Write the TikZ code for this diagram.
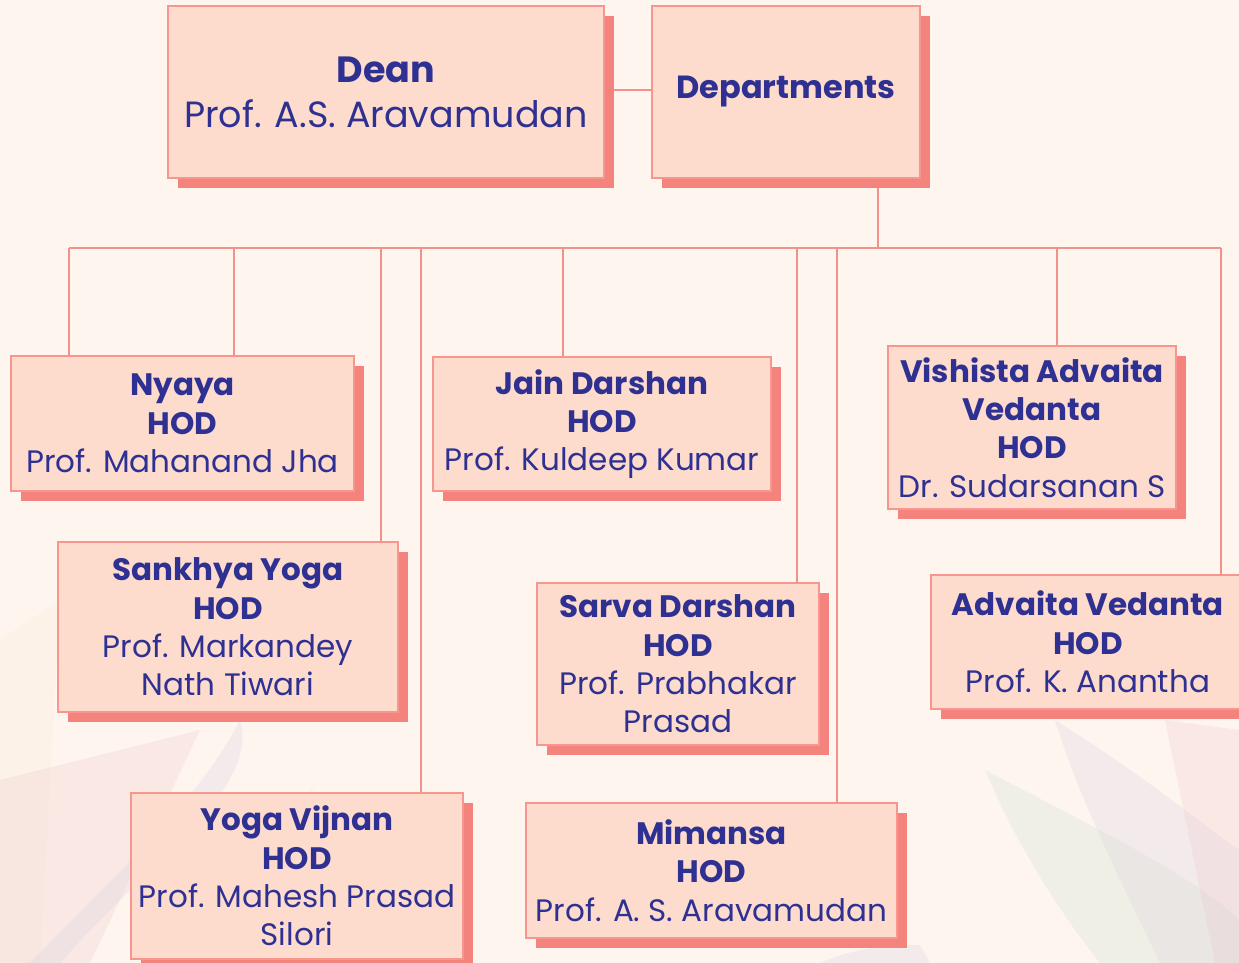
\documentclass[tikz,border=0pt]{standalone}
\usepackage{fontspec}
\setmainfont{Poppins}
\usetikzlibrary{shadows, backgrounds}
\definecolor{pagebg}{RGB}{254, 245, 239}
\definecolor{boxfill}{RGB}{253, 219, 205}
\definecolor{boxline}{RGB}{247, 150, 143}
\definecolor{shadowred}{RGB}{244, 131, 125}
\definecolor{navytext}{RGB}{46, 49, 146}
\definecolor{linkred}{RGB}{244, 144, 138}
\definecolor{leafpink}{RGB}{240, 200, 205}
\definecolor{leafgreen}{RGB}{205, 225, 210}
\definecolor{leaflilac}{RGB}{215, 210, 225}
\definecolor{leafcream}{RGB}{250, 235, 215}
\tikzset{
    orgbox/.style={rectangle, draw=boxline, fill=boxfill, text=navytext, line width=1.2pt, align=center, inner sep=0pt, drop shadow={shadow xshift=10pt, shadow yshift=-10pt, fill=shadowred, opacity=1}},
    topbox/.style={orgbox, font=\fontsize{36.5}{45}\selectfont},
    hodbox/.style={orgbox, font=\fontsize{31}{38.3}\selectfont},
    link/.style={draw=linkred, line width=2pt},
    leaf/.style={fill opacity=0.28, draw=none}
}

\begin{document}
\begin{tikzpicture}[x=1pt, y=-1pt]
            \useasboundingbox (0,0) rectangle (1239,963);

            % top row
            \node (dean) [topbox, minimum width=436pt, minimum height=172pt] at (386,92) {\textbf{Dean}\\Prof. A.S. Aravamudan};
            \node (dept) [topbox, minimum width=268pt, minimum height=172pt, font=\fontsize{32}{40}\selectfont] at (786,92) {\textbf{Departments}};

            % departments
            \node (nyaya) [hodbox, minimum width=343pt, minimum height=135pt] at (182.5,423.5) {\textbf{Nyaya}\\\textbf{HOD}\\Prof. Mahanand Jha};
            \node (sankhya) [hodbox, minimum width=340pt, minimum height=170pt] at (228,627) {\textbf{Sankhya Yoga}\\\textbf{HOD}\\Prof. Markandey\\Nath Tiwari};
            \node (yoga) [hodbox, minimum width=332pt, minimum height=166pt] at (297,876) {\textbf{Yoga Vijnan}\\\textbf{HOD}\\Prof. Mahesh Prasad\\Silori};
            \node (jain) [hodbox, minimum width=338pt, minimum height=134pt] at (602,424) {\textbf{Jain Darshan}\\\textbf{HOD}\\Prof. Kuldeep Kumar};
            \node (sarva) [hodbox, minimum width=282pt, minimum height=162pt] at (678,664) {\textbf{Sarva Darshan}\\\textbf{HOD}\\Prof. Prabhakar\\Prasad};
            \node (mimansa) [hodbox, minimum width=371pt, minimum height=135pt] at (711.5,870.5) {\textbf{Mimansa}\\\textbf{HOD}\\Prof. A. S. Aravamudan};
            \node (vishista) [hodbox, minimum width=288pt, minimum height=163pt] at (1032,427.5) {\textbf{Vishista Advaita}\\\textbf{Vedanta}\\\textbf{HOD}\\Dr. Sudarsanan S};
            \node (advaita) [hodbox, minimum width=314pt, minimum height=134pt] at (1088,642) {\textbf{Advaita Vedanta}\\\textbf{HOD}\\Prof. K. Anantha};

            \coordinate (busL) at (69,248);
            \coordinate (busR) at (1221,248);
            \coordinate (drop) at (878,248);

            \begin{scope}[on background layer]
                \fill[pagebg] (0,0) rectangle (1239,963);
                % faint leaves
                \fill[leaf, leafcream] (0,640) -- (60,600) -- (40,963) -- (0,963) -- cycle;
                \fill[leaf, leafpink] (0,780) -- (200,730) -- (90,963) -- (0,963) -- cycle;
                \fill[leaf, leaflilac] (60,963) .. controls (150,860) and (260,790) .. (240,720) .. controls (200,800) and (110,880) .. (30,963) -- cycle;
                \fill[leaf, leafgreen] (240,963) .. controls (270,880) and (300,800) .. (325,770) .. controls (280,830) and (250,900) .. (230,963) -- cycle;
                \fill[leaf, leafgreen] (985,770) .. controls (1100,830) and (1200,880) .. (1239,920) -- (1239,963) -- (1100,963) .. controls (1050,900) and (1010,830) .. (985,770) -- cycle;
                \fill[leaf, leaflilac] (1055,720) .. controls (1150,780) and (1210,830) .. (1239,850) -- (1239,963) -- (1160,963) .. controls (1120,880) and (1080,800) .. (1055,720) -- cycle;
                \fill[leaf, leafpink] (1165,720) -- (1239,730) -- (1239,963) -- (1215,963) -- cycle;
                \fill[leaf, leaflilac] (820,963) .. controls (850,950) and (880,945) .. (920,945) -- (930,963) -- cycle;

                % connectors
                \draw [link] (dean.east |- 0,90) -- (dept.west |- 0,90);
                \draw [link] (drop |- dept.south) -- (drop);
                \draw [link] (busL) -- (busR);
                \foreach \x/\n [count=\i] in {69/nyaya, 234/nyaya, 381/sankhya, 421/yoga, 563/jain, 797/sarva, 837/mimansa, 1057/vishista, 1221/advaita}
                    {
                    \coordinate (tap\i) at (\x,248);
                    \draw [link] (tap\i) -- (tap\i |- \n.north);
                    }
            \end{scope}
        \end{tikzpicture}
\end{document}
